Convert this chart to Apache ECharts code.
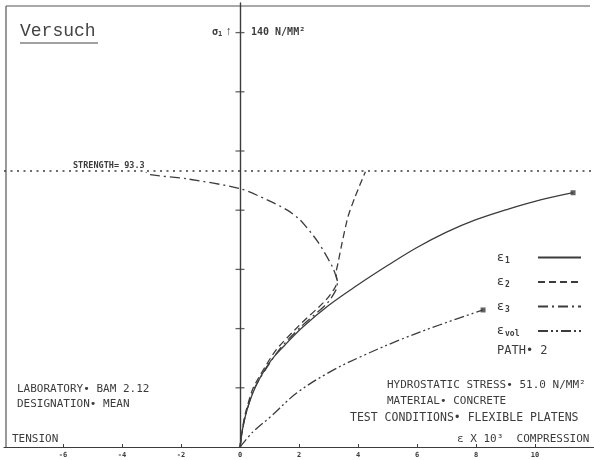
<!DOCTYPE html>
<html><head><meta charset="utf-8">
<script src="https://cdn.jsdelivr.net/npm/echarts@6/dist/echarts.min.js"></script>
<style>html,body{margin:0;padding:0;background:#fff}#c{width:594px;height:460px}</style>
</head><body><div id="c"></div>
<script>
// strain (x 10^3) vs stress sigma1 (N/mm^2)
const eps1 = [[0,0],[0.17,10],[0.51,20],[1.0,28.5],[1.5,34.2],[2.14,40.6],[3.0,47.8],[4.0,54.8],[5.0,61.3],[6.0,67.4],[7.0,72.6],[8.0,76.8],[9.0,80.1],[10.0,83.0],[11.29,85.9]];
const eps2 = [[0,0],[0.15,10],[0.45,20],[1.2,32.5],[2.0,41],[2.9,49.5],[3.2,53.5],[3.3,56],[3.25,58.5],[3.32,62],[3.46,69],[3.66,77.8],[3.9,84.5],[4.25,93]];
const eps3 = [[0,0],[0.17,10],[0.5,20],[1.3,32.5],[2.05,40.5],[2.95,48.5],[3.25,53],[3.3,55.5],[3.15,60.5],[2.64,69.3],[2.03,76.8],[1.59,80.1],[0.92,83.5],[0,87.3],[-1.8,90.6],[-3.05,92],[-3.19,92.8]];
const epsVol = [[0,0],[0.44,5.1],[1.02,10.1],[1.93,18.3],[3.05,25.4],[4.07,30.4],[5.42,36.2],[6.78,41.3],[8.24,46.3]];
const strength = 93.3;
const xTicks = {min:-8, max:12, interval:2};
const yRange = {min:0, max:150};
const yTickVals = [20,40,60,80,100,120,140];
const seriesNames = ['ε1','ε2','ε3','εvol'];

const C = '#3c3c3c';
const mono = 'DejaVu Sans Mono';
const chart = echarts.init(document.getElementById('c'), null, {renderer:'canvas'});

const mkLine = (name, data, type, smooth) => ({
  name, type:'line', data, symbol:'none', smooth, z:3,
  lineStyle:{color:C, width:1.3, type}, itemStyle:{color:C}
});
const series = [
  mkLine(seriesNames[0], eps1, 'solid', 0.4),
  mkLine(seriesNames[1], eps2, [7,4], 0.2),
  mkLine(seriesNames[2], eps3, [10,4,2,4], 0.25),
  mkLine(seriesNames[3], epsVol, [10,3,2,3,2,3], 0.35),
  {type:'scatter', data:[eps1[eps1.length-1], epsVol[epsVol.length-1]], symbol:'rect', symbolSize:5,
   itemStyle:{color:C}, silent:true, z:4,
   markLine:{silent:true, symbol:'none', data:[{yAxis:strength}],
     lineStyle:{color:C, width:1.6, type:[2,4.5]},
     label:{show:true, position:'insideStartTop', formatter:'STRENGTH= ' + strength.toFixed(1),
       fontFamily:mono, fontSize:8.5, fontWeight:'bold', color:C, padding:[0,0,0,68], distance:1}}},
  // crossing "+" tick marks on the stress axis
  {type:'scatter', data:yTickVals.map(v => [0, v]), symbol:'path://M0 0H10V1H0Z', symbolSize:[9,1.3],
   itemStyle:{color:C}, silent:true, z:5}
];

chart.setOption({
  backgroundColor:'#fff',
  animation:false,
  grid:{left:4, right:0, top:3, bottom:13, containLabel:false, outerBoundsMode:'none'},
  xAxis:{type:'value', min:xTicks.min, max:xTicks.max, interval:xTicks.interval,
     axisLine:{lineStyle:{color:C, width:1.2}},
     axisTick:{inside:true, length:3, lineStyle:{color:C}},
     axisLabel:{showMinLabel:false, showMaxLabel:false, fontSize:7, fontWeight:'bold', color:C, margin:5, fontFamily:mono},
     splitLine:{show:false}},
  yAxis:{type:'value', min:yRange.min, max:yRange.max,
     axisLine:{show:true, onZero:true, lineStyle:{color:C, width:1.4}},
     axisTick:{show:false}, axisLabel:{show:false}, splitLine:{show:false}},
  legend:{data:seriesNames, orient:'vertical', left:497, top:251, align:'right', padding:0,
    itemWidth:43, itemHeight:12, itemGap:11, itemStyle:{opacity:0},
    formatter:n => '{e|ε}{s|' + n.slice(1) + '}',
    textStyle:{width:36, align:'left', color:C, fontFamily:mono,
      rich:{e:{fontSize:13, color:C, fontFamily:'DejaVu Sans', align:'left'}, s:{fontSize:8, color:C, padding:[6,0,0,1], fontFamily:mono, fontWeight:'bold', align:'left'}}}},
  series,
  graphic:[
    {type:'line', shape:{x1:6, y1:6, x2:590, y2:6}, style:{stroke:'#555', lineWidth:1.2}},
    {type:'line', shape:{x1:6, y1:6, x2:6, y2:447}, style:{stroke:'#555', lineWidth:1.2}},
    {type:'text', left:20, top:22, style:{text:'Versuch', font:'18px "Liberation Mono"', fill:'#444'}},
    {type:'line', shape:{x1:20, y1:43, x2:98, y2:43}, style:{stroke:'#444', lineWidth:1.2}},
    {type:'text', left:212, top:26, style:{text:'{a|σ}{b|1} ↑', fill:C,
       rich:{a:{font:'bold 10px "DejaVu Sans Mono"', fill:C}, b:{font:'bold 7px "DejaVu Sans Mono"', fill:C, padding:[4,0,0,0]}}}},
    {type:'text', left:251, top:27, style:{text:'140 N/MM²', font:'bold 10px "DejaVu Sans Mono"', fill:C}},
    {type:'text', left:497, top:345, style:{text:'PATH• 2', font:'12px "DejaVu Sans Mono"', fill:C}},
    {type:'text', left:17, top:384, style:{text:'LABORATORY• BAM 2.12', font:'11px "DejaVu Sans Mono"', fill:C}},
    {type:'text', left:17, top:399, style:{text:'DESIGNATION• MEAN', font:'11px "DejaVu Sans Mono"', fill:C}},
    {type:'text', left:387, top:380, style:{text:'HYDROSTATIC STRESS• 51.0 N/MM²', font:'11px "DejaVu Sans Mono"', fill:C}},
    {type:'text', left:387, top:396, style:{text:'MATERIAL• CONCRETE', font:'11px "DejaVu Sans Mono"', fill:C}},
    {type:'text', left:350, top:412, style:{text:'TEST CONDITIONS• FLEXIBLE PLATENS', font:'11.5px "DejaVu Sans Mono"', fill:C}},
    {type:'text', left:12, top:434, style:{text:'TENSION', font:'11px "DejaVu Sans Mono"', fill:C}},
    {type:'text', left:457, top:434, style:{text:'ε X 10³  COMPRESSION', font:'11px "DejaVu Sans Mono"', fill:C}}
  ]
});
</script></body></html>
